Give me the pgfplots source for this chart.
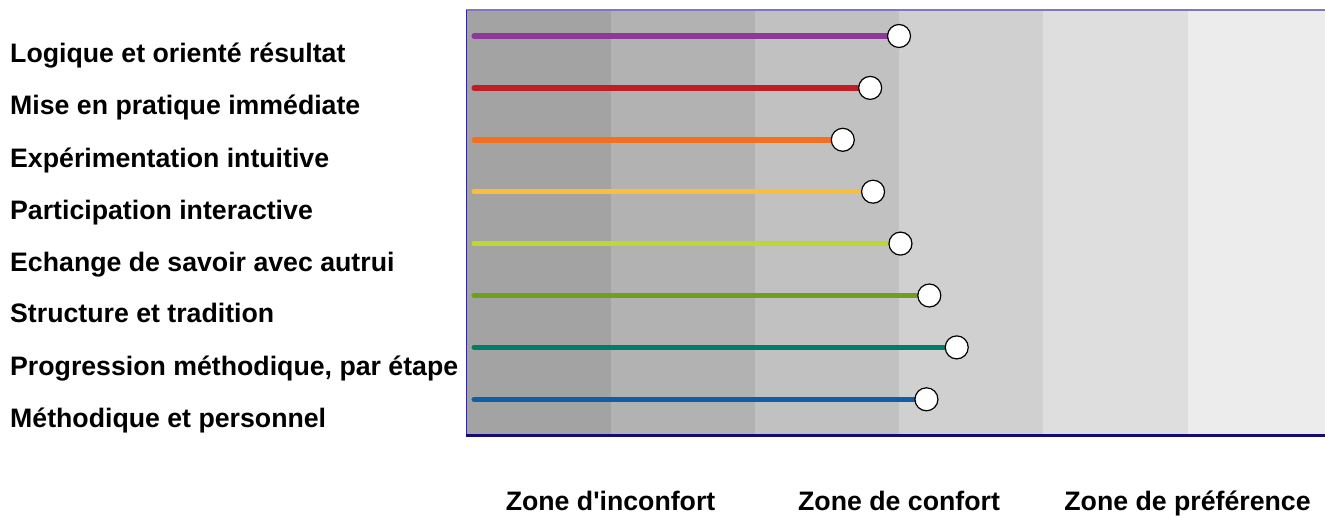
\documentclass[border=0pt]{standalone}
\usepackage{pgfplots}
\pgfplotsset{compat=1.18}
\usepackage{fontspec}
\setmainfont{Liberation Sans}[Ligatures=TeXOff]
\definecolor{b1}{RGB}{163,163,163}
\definecolor{b2}{RGB}{178,178,178}
\definecolor{b3}{RGB}{193,193,193}
\definecolor{b4}{RGB}{208,208,208}
\definecolor{b5}{RGB}{222,222,222}
\definecolor{b6}{RGB}{236,236,236}
\definecolor{cpurple}{RGB}{142,56,151}
\definecolor{cred}{RGB}{190,30,38}
\definecolor{corange}{RGB}{243,112,33}
\definecolor{cyellow}{RGB}{250,190,60}
\definecolor{clime}{RGB}{190,215,50}
\definecolor{cgreen}{RGB}{110,160,30}
\definecolor{cteal}{RGB}{0,125,105}
\definecolor{cblue}{RGB}{15,95,165}
\definecolor{topline}{RGB}{128,120,190}
\definecolor{leftline}{RGB}{50,40,150}
\definecolor{botline}{RGB}{20,10,120}
\begin{document}
\begin{tikzpicture}
\path[use as bounding box] (-466.3pt,-80pt) rectangle (858.7pt,436pt);
\begin{axis}[
  scale only axis, width=858.7pt, height=426pt,
  xmin=0, xmax=5.953, ymin=0, ymax=426,
  clip=false,
  axis line style={draw=none},
  major tick length=0pt, tick style={draw=none},
  xtick={1,3,5},
  xticklabels={Zone d'inconfort, Zone de confort, Zone de préférence},
  xticklabel style={anchor=base, yshift=-74pt, inner sep=0pt, font=\fontsize{26.7}{32}\selectfont\bfseries},
  ytick={9,60,113,164,216,268,321,373},
  yticklabels={Méthodique et personnel, {Progression méthodique, par étape}, Structure et tradition, Echange de savoir avec autrui, Participation interactive, Expérimentation intuitive, Mise en pratique immédiate, Logique et orienté résultat},
  yticklabel style={anchor=base west, xshift=-456.3pt, inner sep=0pt, font=\fontsize{26.7}{32}\selectfont\bfseries},
  extra x ticks={1,2,3,4,5}, extra x tick labels={},
  extra x tick style={grid=major, major grid style={white, opacity=0.25, line width=1pt}},
]
\addplot[fill=b1, draw=none] coordinates {(0,426) (1,426)} \closedcycle;
\addplot[fill=b2, draw=none] coordinates {(1,426) (2,426)} \closedcycle;
\addplot[fill=b3, draw=none] coordinates {(2,426) (3,426)} \closedcycle;
\addplot[fill=b4, draw=none] coordinates {(3,426) (4,426)} \closedcycle;
\addplot[fill=b5, draw=none] coordinates {(4,426) (5,426)} \closedcycle;
\addplot[fill=b6, draw=none] coordinates {(5,426) (5.953,426)} \closedcycle;
\draw[topline, line width=1.5pt] (rel axis cs:0,1) -- (rel axis cs:1,1);
\draw[leftline, line width=1.5pt] (rel axis cs:0,0) -- (rel axis cs:0,1);
\draw[botline, line width=3pt] (rel axis cs:0,0) -- (rel axis cs:1,0);
\pgfplotsset{every axis plot/.append style={line width=5.5pt, line cap=round, mark=*, mark indices={2}, mark size=11.5pt, mark options={fill=white, draw=black, line width=1.2pt}}}
\addplot[cpurple] coordinates {(0.055,400) (3.0,400)};
\addplot[cred] coordinates {(0.055,348.1) (2.8,348.1)};
\addplot[corange] coordinates {(0.055,296.2) (2.61,296.2)};
\addplot[cyellow] coordinates {(0.055,244.3) (2.82,244.3)};
\addplot[clime] coordinates {(0.055,192.4) (3.01,192.4)};
\addplot[cgreen] coordinates {(0.055,140.5) (3.21,140.5)};
\addplot[cteal] coordinates {(0.055,88.6) (3.40,88.6)};
\addplot[cblue] coordinates {(0.055,36.7) (3.19,36.7)};
\end{axis}
\end{tikzpicture}
\end{document}
